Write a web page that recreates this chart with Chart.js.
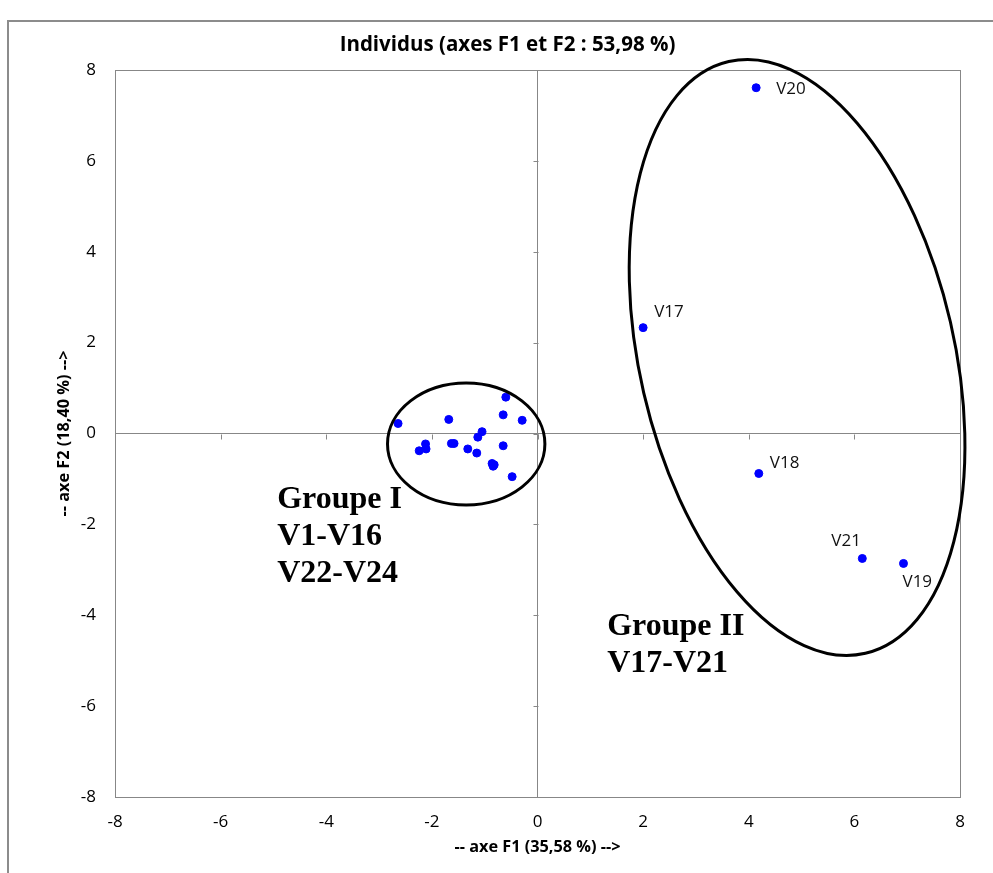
<!DOCTYPE html>
<html>
<head>
<meta charset="utf-8">
<script src="https://cdn.jsdelivr.net/npm/chart.js@4.4.0/dist/chart.umd.min.js"></script>
<style>
  html, body { margin: 0; padding: 0; background: #fff; }
  #wrap { width: 993px; height: 873px; position: relative; }
</style>
</head>
<body>
<div id="wrap"><canvas id="graficoIndividus"></canvas></div>
<script>
// Groupe I : V1-V16, V22-V24 (noms non affichés)
const groupeI_x = [-2.64, -1.68, -0.60, -0.65, -0.29, -1.05, -1.13, -2.12, -2.11, -2.24,
                   -1.63, -1.58, -1.32, -1.15, -0.65, -0.86, -0.82, -0.84, -0.48];
const groupeI_y = [0.22, 0.31, 0.80, 0.41, 0.29, 0.04, -0.08, -0.23, -0.34, -0.38,
                   -0.22, -0.22, -0.34, -0.43, -0.27, -0.66, -0.69, -0.72, -0.95];

// Groupe II : V17-V21
const groupeII_noms = ['V17', 'V18', 'V19', 'V20', 'V21'];
const groupeII_x = [2.00, 4.19, 6.93, 4.14, 6.15];
const groupeII_y = [2.33, -0.88, -2.86, 7.61, -2.75];

const ticksAxe = [-8, -6, -4, -2, 0, 2, 4, 6, 8];

const titre = 'Individus (axes F1 et F2 : 53,98 %)';
const titreX = '-- axe F1 (35,58 %) -->';
const titreY = '-- axe F2 (18,40 %) -->';

// position des étiquettes (px, relatif au point)
const decalEtiquettes = { V17: [11, -15], V18: [11, -10], V19: [-1, 19], V20: [20, 1], V21: [-31, -17] };

// ellipses et textes des groupes (centre en unités des axes, rayons en unités de l'axe F1)
const ellipses = [
    { cx: -1.35, cy: -0.23, a: 1.49, b: 1.155, angle: 0 },
    { cx: 4.915, cy: 1.674, a: 5.75, b: 2.98, angle: 77 }
];
const textesGroupes = [
    { x: -4.93, y: -1.64, lignes: ['Groupe I', 'V1-V16', 'V22-V24'] },
    { x: 1.32, y: -4.44, lignes: ['Groupe II', 'V17-V21'] }
];

const gris = '#878787';

const pointsI = groupeI_x.map((x, i) => ({ x: x, y: groupeI_y[i] }));
const pointsII = groupeII_x.map((x, i) => ({ x: x, y: groupeII_y[i], nom: groupeII_noms[i] }));

const decor = {
    id: 'decor',
    beforeDraw(chart) {
        const ctx = chart.ctx;
        ctx.save();
        ctx.strokeStyle = '#8c8c8c';
        ctx.lineWidth = 2;
        ctx.strokeRect(8, 21, 1100, 1000);
        ctx.restore();
    },
    beforeDatasetsDraw(chart) {
        const { ctx, chartArea: ca, scales } = chart;
        ctx.save();
        ctx.strokeStyle = gris;
        ctx.lineWidth = 1;
        ctx.strokeRect(ca.left + 0.5, ca.top + 0.5, ca.width, ca.height);
        const x0 = Math.round(scales.x.getPixelForValue(0)) + 0.5;
        const y0 = Math.round(scales.y.getPixelForValue(0)) + 0.5;
        ctx.beginPath();
        ticksAxe.forEach(v => {
            const px = Math.round(scales.x.getPixelForValue(v)) + 0.5;
            ctx.moveTo(px, y0);
            ctx.lineTo(px, y0 + 5);
            const py = Math.round(scales.y.getPixelForValue(v)) + 0.5;
            ctx.moveTo(x0, py);
            ctx.lineTo(x0 - 5, py);
        });
        ctx.stroke();
        ctx.restore();
    },
    afterDraw(chart) {
        const { ctx, scales } = chart;
        const ux = scales.x.getPixelForValue(1) - scales.x.getPixelForValue(0);
        ctx.save();
        ctx.strokeStyle = '#000';
        ctx.lineWidth = 3;
        ellipses.forEach(e => {
            ctx.beginPath();
            ctx.ellipse(scales.x.getPixelForValue(e.cx), scales.y.getPixelForValue(e.cy),
                e.a * ux, e.b * ux, e.angle * Math.PI / 180, 0, Math.PI * 2);
            ctx.stroke();
        });

        // étiquettes du groupe II
        ctx.fillStyle = '#111';
        ctx.font = '17px "Open Sans"';
        ctx.textAlign = 'left';
        ctx.textBaseline = 'middle';
        const meta = chart.getDatasetMeta(1);
        meta.data.forEach((el, i) => {
            const d = decalEtiquettes[groupeII_noms[i]];
            ctx.fillText(groupeII_noms[i], el.x + d[0], el.y + d[1]);
        });

        // textes des groupes
        ctx.fillStyle = '#000';
        ctx.font = 'bold 32px "Liberation Serif"';
        ctx.textBaseline = 'alphabetic';
        textesGroupes.forEach(t => {
            const px = scales.x.getPixelForValue(t.x);
            const py = scales.y.getPixelForValue(t.y);
            t.lignes.forEach((l, k) => ctx.fillText(l, px, py + k * 37));
        });
        ctx.restore();
    }
};

const grilleZero = {
    drawTicks: false,
    color: c => (c.tick && c.tick.value === 0) ? gris : 'rgba(0,0,0,0)',
    lineWidth: 1
};

new Chart(document.getElementById('graficoIndividus').getContext('2d'), {
    type: 'scatter',
    data: {
        datasets: [
            {
                label: 'Groupe I',
                data: pointsI,
                backgroundColor: '#0000ff',
                borderColor: '#0000ff',
                pointRadius: 4,
                pointHoverRadius: 4
            },
            {
                label: 'Groupe II',
                data: pointsII,
                backgroundColor: '#0000ff',
                borderColor: '#0000ff',
                pointRadius: 4,
                pointHoverRadius: 4
            }
        ]
    },
    options: {
        responsive: true,
        maintainAspectRatio: false,
        animation: false,
        layout: { padding: { top: 0, left: 55, right: 33, bottom: 16.2 } },
        plugins: {
            legend: { display: false },
            tooltip: { enabled: false },
            title: {
                display: true,
                text: titre,
                color: '#000',
                font: { family: 'Open Sans', size: 20.5, weight: 'bold' },
                padding: { top: 32.7, bottom: 12.7 }
            }
        },
        scales: {
            x: {
                type: 'linear',
                min: -8, max: 8,
                afterFit: s => { s.height = 59.8; },
                afterBuildTicks: s => { s.ticks = ticksAxe.map(v => ({ value: v })); },
                border: { display: false },
                grid: grilleZero,
                ticks: {
                    padding: 15,
                    color: '#000',
                    font: { family: 'Open Sans', size: 17 }
                },
                title: {
                    display: true,
                    text: titreX,
                    color: '#000',
                    padding: 0,
                    font: { family: 'Open Sans', size: 16.3, weight: 'bold' }
                }
            },
            y: {
                type: 'linear',
                min: -8, max: 8,
                afterFit: s => { s.width = 60; },
                afterBuildTicks: s => { s.ticks = ticksAxe.map(v => ({ value: v })); },
                border: { display: false },
                grid: grilleZero,
                ticks: {
                    padding: 19,
                    color: '#000',
                    font: { family: 'Open Sans', size: 17 }
                },
                title: {
                    display: true,
                    text: titreY,
                    color: '#000',
                    padding: 0,
                    font: { family: 'Open Sans', size: 16.3, weight: 'bold' }
                }
            }
        }
    },
    plugins: [decor]
});
</script>
</body>
</html>
